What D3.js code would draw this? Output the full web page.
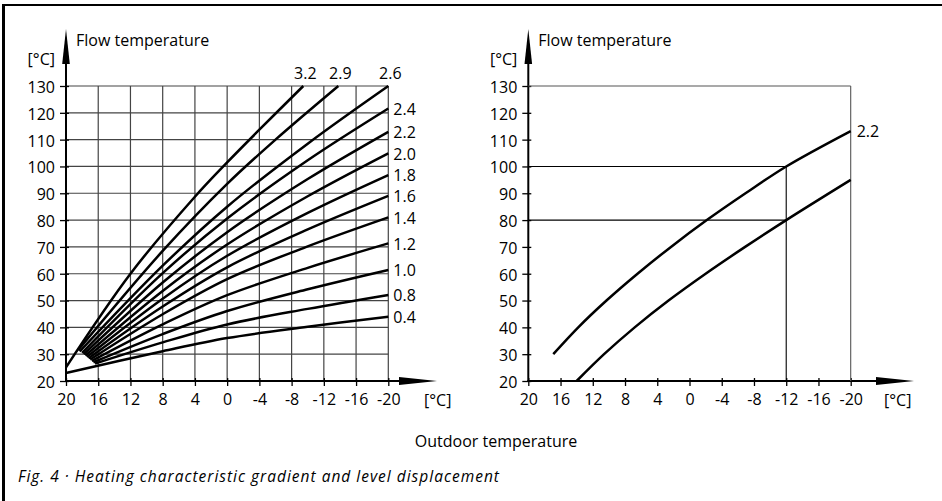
<!DOCTYPE html>
<html>
<head>
<meta charset="utf-8">
<script src="https://cdn.jsdelivr.net/npm/d3@7"></script>
<style>
  body { margin: 0; background: #fff; }
  svg { display: block; }
  text { font-family: "Open Sans", Lato, sans-serif; fill: #000; }
  .tick { font-size: 16px; }
  .gridLine { stroke: #444; stroke-width: 1.2; }
  .curve { fill: none; stroke: #000; stroke-width: 2.5; stroke-linejoin: round; }
</style>
</head>
<body>
<div id="chart"></div>
<script>
// ---- data ----
const outdoorTicks = [20, 16, 12, 8, 4, 0, -4, -8, -12, -16, -20];
const flowTicks = [20, 30, 40, 50, 60, 70, 80, 90, 100, 110, 120, 130];

// left chart: heating characteristic gradients, points as [outdoor, flow]
const gradientNames = ["3.2", "2.9", "2.6", "2.4", "2.2", "2.0", "1.8", "1.6", "1.4", "1.2", "1.0", "0.8", "0.4"];
const curve32 = [[20, 25.1], [12, 60], [4, 88.7], [0, 101.5], [-4, 113.7], [-9.45, 130]];
const curve29 = [[18.5, 31.5], [8, 68.5], [0, 93.5], [-6, 110], [-13.8, 130]];
const curve26 = [[18.3, 31], [8, 63], [0, 85], [-10, 108.5], [-20, 130]];
const curve24 = [[18, 30.5], [8, 60.2], [0, 80.6], [-10, 102.3], [-20, 121.6]];
const curve22 = [[17.8, 30], [8, 56.7], [0, 75.5], [-10, 95.3], [-20, 112.9]];
const curve20 = [[17.6, 29.5], [8, 53.6], [0, 70.9], [-10, 88.9], [-20, 104.9]];
const curve18 = [[17.4, 29], [8, 50.7], [0, 66.7], [-10, 82.7], [-20, 96.8]];
const curve16 = [[17.2, 28.5], [8, 47.8], [0, 62.4], [-10, 76.5], [-20, 89]];
const curve14 = [[17, 28], [8, 44.9], [0, 58], [-10, 70.2], [-20, 81]];
const curve12 = [[16.8, 27.5], [8, 41.1], [0, 52], [-10, 62.2], [-20, 71.3]];
const curve10 = [[16.6, 27], [8, 37.5], [0, 46.1], [-10, 54.2], [-20, 61.4]];
const curve08 = [[16.4, 26.5], [8, 34.4], [0, 41.1], [-10, 46.9], [-20, 52.1]];
const curve04 = [[20, 23], [8, 31.1], [0, 36], [-10, 40.2], [-20, 44]];
const gradientCurves = [curve32, curve29, curve26, curve24, curve22, curve20, curve18,
                        curve16, curve14, curve12, curve10, curve08, curve04];
const topLabelled = ["3.2", "2.9", "2.6"];

// right chart: level displacement of the 2.2 curve
const shiftedName = "2.2";
const upperCurve = [[16.9, 30], [13.8, 40], [10.3, 50], [6.45, 60], [2.3, 70], [-2.15, 80], [-6.95, 90], [-12, 100], [-20, 113.2]];
const lowerCurve = [[14, 20], [10.6, 30], [6.8, 40], [2.6, 50], [-2.0, 60], [-6.9, 70], [-12, 80], [-20, 95]];
const markerOutdoor = -12;
const markerFlows = [100, 80];

// ---- drawing ----
let width = 942, height = 501;
let yTop = 86, yBottom = 381;

var svg = d3.select('#chart').append('svg')
  .attr('width', width)
  .attr('height', height);

svg.append('rect').attr('width', width).attr('height', height).attr('fill', '#fff');

// frame
svg.append('line').attr('x1', 2).attr('x2', width).attr('y1', 5).attr('y2', 5)
  .attr('stroke', '#000').attr('stroke-width', 2.2);
svg.append('line').attr('x1', 3.5).attr('x2', 3.5).attr('y1', 4).attr('y2', height)
  .attr('stroke', '#000').attr('stroke-width', 3);

let yScale = d3.scaleLinear().domain([20, 130]).range([yBottom, yTop]);

function drawFrame(g, xScale, arrowTip, unitX, withGrid) {
  let x0 = xScale(20);
  if (withGrid) {
    g.append('g').selectAll('line').data(flowTicks.slice(1)).enter().append('line')
      .attr('class', 'gridLine')
      .attr('x1', x0).attr('x2', xScale(-20))
      .attr('y1', d => yScale(d)).attr('y2', d => yScale(d));
    g.append('g').selectAll('line').data(outdoorTicks.slice(1)).enter().append('line')
      .attr('class', 'gridLine')
      .attr('x1', d => xScale(d)).attr('x2', d => xScale(d))
      .attr('y1', yScale(130)).attr('y2', yBottom);
  }
  // y axis
  let yAxis = g.append('g')
    .attr('transform', `translate(${x0},0)`)
    .call(d3.axisLeft(yScale).tickValues(flowTicks).tickFormat(d => String(d))
      .tickSizeInner(5).tickSizeOuter(0).tickPadding(5));
  yAxis.select('.domain').remove();
  yAxis.selectAll('.tick line').attr('x2', -6).attr('x1', 3).attr('stroke', '#000').attr('stroke-width', 1.3);
  yAxis.selectAll('.tick text').attr('class', 'tick').attr('font-family', null).attr('font-size', null)
    .attr('dy', '0.4em').attr('x', -11);
  g.append('line').attr('x1', x0).attr('x2', x0).attr('y1', yBottom + 1).attr('y2', 60)
    .attr('stroke', '#000').attr('stroke-width', 2);
  g.append('path').attr('d', `M${x0},29 L${x0 - 3.8},64 L${x0 + 3.8},64 Z`).attr('fill', '#000');

  // x axis
  let xAxis = g.append('g')
    .attr('transform', `translate(0,${yBottom})`)
    .call(d3.axisBottom(xScale).tickValues(outdoorTicks).tickFormat(d => String(d))
      .tickSizeInner(5).tickSizeOuter(0).tickPadding(8));
  xAxis.select('.domain').remove();
  xAxis.selectAll('.tick line').attr('y1', -3).attr('y2', 5).attr('stroke', '#000').attr('stroke-width', 1.3);
  xAxis.selectAll('.tick text').attr('class', 'tick').attr('font-family', null).attr('font-size', null)
    .attr('dy', '0.68em');
  g.append('line').attr('x1', x0 - 1).attr('x2', arrowTip - 30).attr('y1', yBottom).attr('y2', yBottom)
    .attr('stroke', '#000').attr('stroke-width', 2);
  g.append('path').attr('d', `M${arrowTip},${yBottom} L${arrowTip - 38},${yBottom - 4} L${arrowTip - 38},${yBottom + 4} Z`)
    .attr('fill', '#000');

  // unit labels
  g.append('text').attr('class', 'tick').attr('text-anchor', 'end')
    .attr('x', x0 - 11).attr('y', 65).text('[°C]');
  g.append('text').attr('class', 'tick')
    .attr('x', unitX).attr('y', 406).text('[°C]');
  g.append('text').attr('class', 'tick')
    .attr('x', x0 + 10).attr('y', 46).text('Flow temperature');
}

let line = d3.line().curve(d3.curveCatmullRom.alpha(0.5));

// left chart
let xLeft = d3.scaleLinear().domain([20, -20]).range([66, 388.3]);
let left = svg.append('g');
drawFrame(left, xLeft, 437, 424, true);

left.append('g').selectAll('path').data(gradientCurves).enter().append('path')
  .attr('class', 'curve')
  .attr('d', d => line(d.map(p => [xLeft(p[0]), yScale(p[1])])));

left.append('g').selectAll('text').data(gradientCurves).enter().append('text')
  .attr('class', 'tick')
  .each(function (d, i) {
    let last = d[d.length - 1];
    let el = d3.select(this).text(gradientNames[i]);
    if (topLabelled.includes(gradientNames[i])) {
      el.attr('text-anchor', 'middle').attr('x', xLeft(last[0]) + 2).attr('y', yScale(last[1]) - 7);
    } else {
      el.attr('x', xLeft(last[0]) + 5).attr('y', yScale(last[1])).attr('dy', '0.4em');
    }
  });

// right chart
let xRight = d3.scaleLinear().domain([20, -20]).range([528.3, 850.7]);
let right = svg.append('g');
drawFrame(right, xRight, 914, 884, false);

right.append('line').attr('x1', xRight(20)).attr('x2', xRight(-20))
  .attr('y1', yScale(130)).attr('y2', yScale(130)).attr('stroke', '#555').attr('stroke-width', 1.1);
right.append('line').attr('x1', xRight(-20)).attr('x2', xRight(-20))
  .attr('y1', yScale(130)).attr('y2', yBottom).attr('stroke', '#555').attr('stroke-width', 1.1);
right.append('g').selectAll('line').data(markerFlows).enter().append('line')
  .attr('x1', xRight(20)).attr('x2', xRight(markerOutdoor))
  .attr('y1', d => yScale(d)).attr('y2', d => yScale(d))
  .attr('stroke', '#000').attr('stroke-width', 1.1);
right.append('line').attr('x1', xRight(markerOutdoor)).attr('x2', xRight(markerOutdoor))
  .attr('y1', yScale(d3.max(markerFlows))).attr('y2', yBottom)
  .attr('stroke', '#000').attr('stroke-width', 1.1);

right.append('g').selectAll('path').data([upperCurve, lowerCurve]).enter().append('path')
  .attr('class', 'curve')
  .attr('d', d => line(d.map(p => [xRight(p[0]), yScale(p[1])])));

let upperEnd = upperCurve[upperCurve.length - 1];
right.append('text').attr('class', 'tick')
  .attr('x', xRight(upperEnd[0]) + 6).attr('y', yScale(upperEnd[1])).attr('dy', '0.4em')
  .text(shiftedName);

// shared labels
svg.append('text').attr('class', 'tick').attr('text-anchor', 'middle')
  .attr('x', 496).attr('y', 447).text('Outdoor temperature');
svg.append('text').attr('class', 'tick').attr('font-style', 'italic')
  .attr('x', 18).attr('y', 482).style('font-size', '15.5px').style('letter-spacing', '1px')
  .text('Fig. 4 · Heating characteristic gradient and level displacement');
</script>
</body>
</html>
